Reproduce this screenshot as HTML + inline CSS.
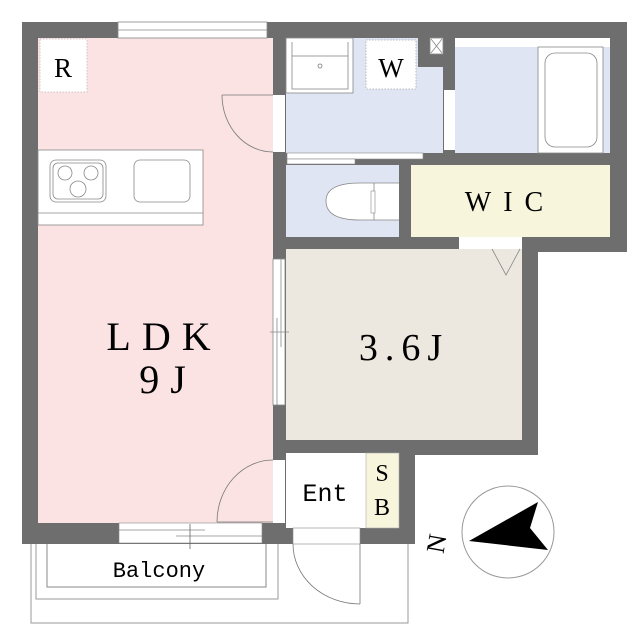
<!DOCTYPE html>
<html><head><meta charset="utf-8"><style>html,body{margin:0;padding:0;background:#fff}svg{display:block}</style></head><body>
<svg width="640" height="640" viewBox="0 0 640 640" xmlns="http://www.w3.org/2000/svg" font-family="'Liberation Serif','Noto Serif CJK SC',serif">
<path d="M22,22 H627 V252 H538 V455 H415 V544 H22 Z" fill="#6e6e6e"/>
<rect x="38" y="38" width="235" height="485" fill="#fbe3e4"/>
<rect x="118" y="22" width="149" height="16" fill="#fff" stroke="#888" stroke-width="0.8"/>
<line x1="118" y1="30" x2="267" y2="30" stroke="#888" stroke-width="0.8"/>
<rect x="40" y="39" width="47" height="53" fill="#fff" stroke="#bbb" stroke-dasharray="1.5,1.5" stroke-width="0.8"/>
<text x="63" y="77" font-size="27" text-anchor="middle">R</text>
<rect x="38" y="150" width="165" height="75" fill="#fff" stroke="#888" stroke-width="0.8"/>
<line x1="38" y1="213" x2="203" y2="213" stroke="#888" stroke-width="0.8"/>
<rect x="50" y="160" width="56" height="42" rx="6" fill="#fff" stroke="#888" stroke-width="0.8"/>
<rect x="53" y="163" width="50" height="36" rx="5" fill="none" stroke="#888" stroke-width="0.8"/>
<circle cx="65" cy="173" r="7" fill="none" stroke="#888" stroke-width="0.8"/>
<circle cx="91" cy="173" r="7" fill="none" stroke="#888" stroke-width="0.8"/>
<circle cx="78" cy="189" r="8" fill="none" stroke="#888" stroke-width="0.8"/>
<rect x="134" y="160" width="56" height="42" rx="6" fill="#fff" stroke="#888" stroke-width="0.8"/>
<rect x="273" y="95" width="12" height="57" fill="#fff"/>
<path d="M222,95 H273 M222,95 A51,57 0 0 0 273,152" fill="none" stroke="#777" stroke-width="0.8"/>
<path d="M286,38 H418 V67 H443 V153 H286 Z" fill="#dfe5f2"/>
<rect x="286" y="38" width="67" height="55" fill="#fff" stroke="#888" stroke-width="0.8"/>
<rect x="292" y="56" width="56" height="33" fill="none" stroke="#888" stroke-width="0.8"/>
<line x1="292" y1="42" x2="292" y2="56" stroke="#888" stroke-width="0.8"/><line x1="348" y1="42" x2="348" y2="56" stroke="#888" stroke-width="0.8"/>
<circle cx="320" cy="66" r="2" fill="none" stroke="#777" stroke-width="0.8"/>
<rect x="366" y="40" width="50" height="49" fill="#fff" stroke="#aaa" stroke-dasharray="1.5,1.5" stroke-width="0.8"/>
<text x="391" y="77" font-size="27" text-anchor="middle">W</text>
<rect x="430" y="38" width="13" height="16" fill="#fff" stroke="#888" stroke-width="0.8"/>
<path d="M431,39 L442,53 M442,39 L431,53" stroke="#888" stroke-width="0.8"/>
<rect x="444" y="90" width="11" height="60" fill="#fff"/>
<path d="M455,120 L480,135 L455,148" fill="none" stroke="#888" stroke-width="0.8"/>
<rect x="455" y="38" width="155" height="115" fill="#dfe5f2"/>
<rect x="455" y="38" width="155" height="9" fill="#fff"/>
<rect x="538" y="47" width="65" height="106" fill="#fff" stroke="#888" stroke-width="0.8"/>
<rect x="545" y="53" width="52" height="94" rx="10" fill="#fff" stroke="#888" stroke-width="0.8"/>
<rect x="287" y="153" width="136" height="6" fill="#fff" stroke="#888" stroke-width="0.6"/>
<rect x="287" y="159" width="68" height="5" fill="#fff" stroke="#888" stroke-width="0.6"/>
<rect x="286" y="165" width="113" height="72" fill="#dfe5f2"/>
<path d="M399,183 H360 Q326,183 326,201 Q326,220 360,220 H399" fill="#fff" stroke="#888" stroke-width="0.8"/>
<line x1="374" y1="183" x2="374" y2="220" stroke="#888" stroke-width="0.8"/>
<rect x="371" y="191" width="4" height="22" fill="#fff" stroke="#888" stroke-width="0.6"/>
<rect x="411" y="165" width="199" height="72" fill="#f7f5dc"/>
<text x="510" y="211" font-size="28" text-anchor="middle" letter-spacing="12">WIC</text>
<rect x="459" y="237" width="63" height="12" fill="#fff"/>
<rect x="286" y="249" width="236" height="191" fill="#ece8df"/>
<path d="M492,249 L506,275 L520,249" fill="none" stroke="#888" stroke-width="0.8"/>
<text x="404" y="360" font-size="38" text-anchor="middle" letter-spacing="7">3.6J</text>
<rect x="273" y="259" width="12" height="146" fill="#fff" stroke="#888" stroke-width="0.8"/>
<line x1="281" y1="259" x2="281" y2="347" stroke="#888" stroke-width="0.8"/>
<line x1="277" y1="318" x2="277" y2="405" stroke="#888" stroke-width="0.8"/>
<line x1="270" y1="332" x2="289" y2="332" stroke="#888" stroke-width="0.8"/>
<text x="164" y="350" font-size="40" text-anchor="middle" letter-spacing="11">LDK</text>
<text x="168" y="393" font-size="40" text-anchor="middle" letter-spacing="11">9J</text>
<rect x="273" y="460" width="12" height="63" fill="#fff"/>
<path d="M217,522 H273 M217,522 A56,62 0 0 1 273,460" fill="none" stroke="#777" stroke-width="0.8"/>
<rect x="286" y="453" width="80" height="75" fill="#fff"/>
<text x="325" y="501" font-size="25" text-anchor="middle" font-family="'Liberation Mono',monospace">Ent</text>
<rect x="366" y="453" width="33" height="75" fill="#f7f5dc" stroke="#aaa" stroke-width="0.6"/>
<text x="382" y="481" font-size="24" text-anchor="middle">S</text>
<text x="382" y="515" font-size="24" text-anchor="middle">B</text>
<rect x="293" y="528" width="67" height="16" fill="#fff" stroke="#888" stroke-width="0.6"/>
<path d="M360,544 V604 M293,544 A67,60 0 0 0 360,604" fill="none" stroke="#777" stroke-width="0.8"/>
<rect x="119" y="523" width="143" height="20" fill="#fff" stroke="#888" stroke-width="0.6"/>
<line x1="119" y1="530" x2="205" y2="530" stroke="#888" stroke-width="0.8"/>
<line x1="176" y1="536" x2="262" y2="536" stroke="#888" stroke-width="0.8"/>
<line x1="190" y1="524" x2="190" y2="549" stroke="#666" stroke-width="0.8"/>
<path d="M31,544 V623 H408 V544" fill="none" stroke="#999" stroke-width="1"/>
<path d="M36,544 V599 H278 V544" fill="none" stroke="#999" stroke-width="1"/>
<path d="M47,544 V587 H266 V544" fill="none" stroke="#888" stroke-width="1"/>
<text x="159" y="577" font-size="22" text-anchor="middle" font-family="'Liberation Mono',monospace">Balcony</text>
<circle cx="508" cy="532" r="46" fill="#fff" stroke="#999" stroke-width="1"/>
<path d="M469,541 L538,502 L530,528 L548,550 Z" fill="#000"/>
<text x="0" y="0" font-size="26" transform="translate(445,545) rotate(-80)" text-anchor="middle">N</text>
</svg>
</body></html>
